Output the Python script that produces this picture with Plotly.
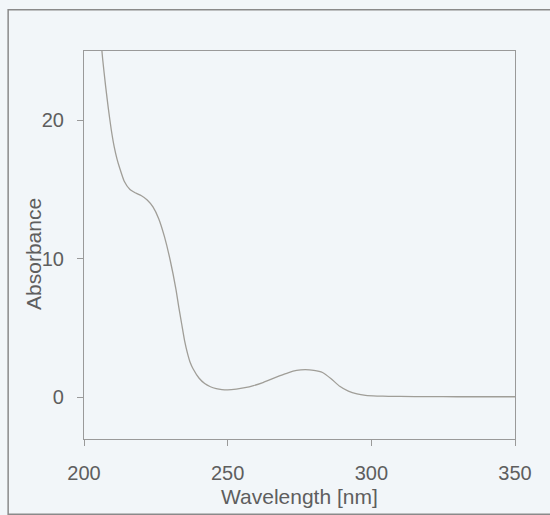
import plotly.graph_objects as go

wavelength = [205.8, 206.5, 207.5, 208.5, 209.5, 210.5, 211.5, 212.5, 214, 216, 218, 220, 222, 224,
              226, 228, 230, 232, 233, 234, 235, 236, 237, 238, 240, 242, 244, 246, 248, 250, 253,
              256, 259, 262, 265, 268, 271, 274, 277, 280, 283, 286, 289, 292, 295, 298, 302, 306,
              310, 320, 330, 340, 350]
absorbance = [26.0, 24.4, 22.5, 20.8, 19.3, 18.1, 17.2, 16.5, 15.6, 15.0, 14.75, 14.55, 14.25, 13.75,
              12.9, 11.6, 9.9, 7.8, 6.5, 5.3, 4.1, 3.2, 2.5, 2.05, 1.4, 1.0, 0.77, 0.64, 0.57, 0.55,
              0.6, 0.7, 0.85, 1.05, 1.3, 1.55, 1.78, 1.95, 2.0, 1.95, 1.8, 1.35, 0.8, 0.45, 0.25,
              0.15, 0.1, 0.08, 0.07, 0.06, 0.05, 0.05, 0.05]
x_ticks = [200, 250, 300, 350]
y_ticks = [0, 10, 20]

BG = "#f2f6f9"
TXT = "#5e5e5e"
AX = "#9a9a9a"
FONT = "Liberation Sans, Arial, sans-serif"

fig = go.Figure(go.Scatter(x=wavelength, y=absorbance, mode="lines",
                           line=dict(color="#a09e98", width=1.3, shape="spline", smoothing=0.5),
                           hoverinfo="skip"))

axis_common = dict(showgrid=False, zeroline=False, showline=True, linecolor=AX, linewidth=1.2,
                   mirror=True, ticks="outside", ticklen=6, tickcolor=AX, tickwidth=1,
                   tickfont=dict(family=FONT, size=20, color=TXT))

fig.update_xaxes(range=[200, 350], tickvals=x_ticks, ticklabelstandoff=10, **axis_common)
fig.update_yaxes(range=[-3, 25], tickvals=y_ticks, ticklabelstandoff=9, **axis_common)

fig.update_layout(
    width=550, height=515,
    margin=dict(l=84, r=35, t=51, b=76),
    paper_bgcolor=BG, plot_bgcolor=BG,
    showlegend=False,
    shapes=[dict(type="rect", xref="paper", yref="paper", x0=-0.176, x1=1.085, y0=-0.194, y1=1.106,
                 line=dict(color="#8a8a8a", width=1.5), layer="below")],
    annotations=[
        dict(text="Wavelength [nm]", xref="paper", yref="paper", x=0.5, y=-0.148,
             xanchor="center", yanchor="middle", showarrow=False,
             font=dict(family=FONT, size=21, color=TXT)),
        dict(text="Absorbance", xref="paper", yref="paper", x=-0.116, y=0.477,
             xanchor="center", yanchor="middle", textangle=-90, showarrow=False,
             font=dict(family=FONT, size=21, color=TXT)),
    ],
)

fig.write_html("out.html")
